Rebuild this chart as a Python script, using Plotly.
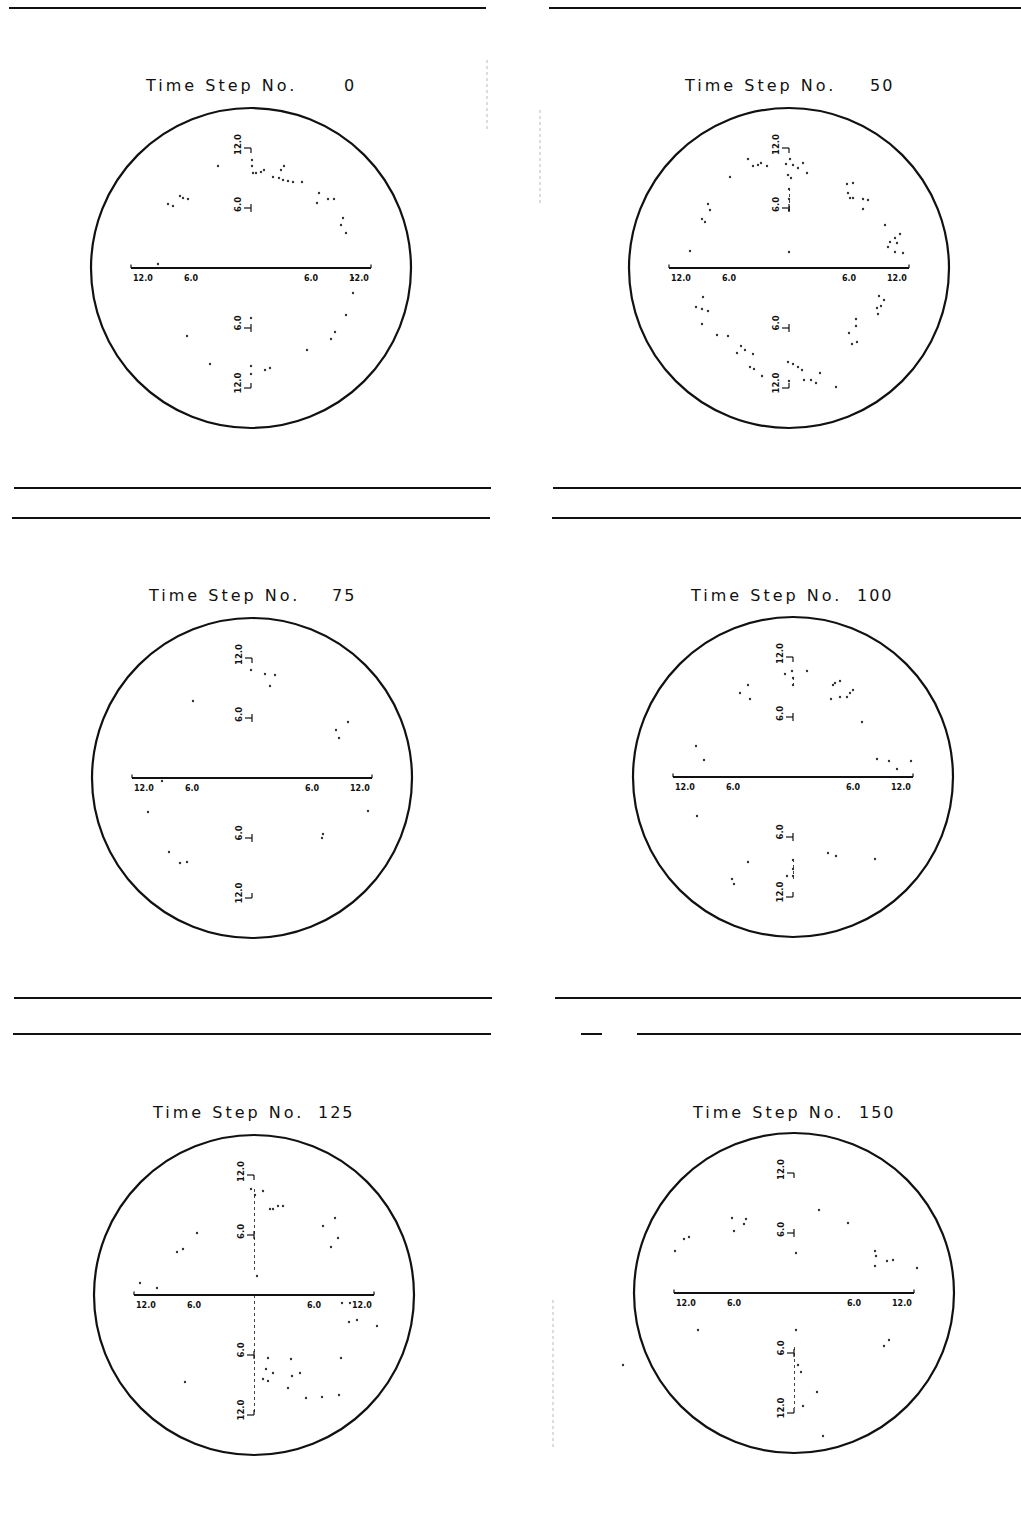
import plotly.graph_objects as go

# Figure size (pixels)
W, H = 1021, 1513

# Time steps shown in the six panels
steps = [0, 50, 75, 100, 125, 150]

# Particle positions for each time step (x, y in radial units)
x_t0 = [-3.3, 0.1, 0.1, 0.2, 0.5, 1.0, 1.3, 3.3, 3.0, 2.2, 2.8, 3.2, 3.7, 4.2, 5.1, 6.8, 6.6, 7.7, 8.3,
        9.2, 9.0, 9.5, -7.1, -6.8, -6.3, -8.3, -7.8, -9.3, 10.2, 10.2, 9.5, 8.4, 8.0, 5.6, 1.9, 1.4,
        0.0, 0.0, 0.0, -6.4, -4.1]
y_t0 = [10.2, 10.8, 10.2, 9.5, 9.5, 9.6, 9.8, 10.2, 9.8, 9.1, 9.0, 8.8, 8.7, 8.6, 8.6, 7.5, 6.5, 6.9, 6.9,
        5.0, 4.3, 3.5, 7.2, 7.0, 6.9, 6.4, 6.2, 0.4, -1.0, -2.5, -4.7, -6.4, -7.1, -8.2, -10.0, -10.2,
        -9.8, -10.6, -5.0, -6.8, -9.6]

x_t50 = [-4.1, -3.6, -3.1, -2.8, -2.2, -5.9, -0.3, 0.1, 0.4, 0.9, 1.4, 1.8, -0.1, 0.2, 0.0, 0.0, 0.0,
         6.4, 5.8, 5.9, 6.1, 6.4, 7.4, 7.9, 7.4, 9.6, 11.1, 10.6, 10.1, 10.8, 9.9, 10.6, 11.4,
         -8.1, -7.9, -8.7, -8.4, -9.9, 0.0, -8.6, -9.3, -8.7, -8.1, -8.7, -7.2, -6.1, -4.8, -4.4,
         -3.6, -5.2, -3.9, -3.5, -2.7, -0.1, 0.4, 0.9, 1.3, 1.5, 2.2, 2.7, 3.1, 4.7, 0.0,
         9.0, 9.5, 9.2, 8.8, 8.9, 6.7, 6.7, 6.0, 6.3, 6.8]
y_t50 = [10.9, 10.2, 10.3, 10.5, 10.2, 9.1, 10.4, 10.9, 10.3, 10.0, 10.5, 9.5, 9.3, 9.0, 7.9, 6.9, 5.8,
         8.5, 8.4, 7.5, 7.0, 7.0, 6.9, 6.8, 5.9, 4.3, 3.4, 3.0, 2.6, 2.5, 2.1, 1.6, 1.5,
         6.4, 5.8, 4.9, 4.6, 1.7, 1.6, -2.9, -3.9, -4.1, -4.3, -5.6, -6.7, -6.8, -7.8, -8.2,
         -8.6, -8.5, -9.9, -10.1, -10.8, -9.4, -9.6, -9.9, -10.2, -11.2, -11.2, -11.5, -10.5, -11.9, -11.3,
         -2.8, -3.2, -3.8, -4.0, -4.6, -5.1, -5.8, -6.5, -7.6, -7.4]

x_t75 = [-0.1, 1.3, 2.3, 1.8, -5.9, 9.6, 8.4, 8.7, -9.0, 11.6, -10.4, 7.1, 7.0, -8.3, -7.2, -6.5]
y_t75 = [10.8, 10.4, 10.3, 9.2, 7.7, 5.6, 4.8, 4.0, -0.3, -3.3, -3.4, -5.6, -6.0, -7.4, -8.5, -8.4]

x_t100 = [-0.1, 0.0, 0.0, 1.4, -0.8, -4.5, -5.3, -4.3, 4.2, 4.7, 4.0, 6.0, 5.7, 3.8, 4.7, 5.4, 6.9,
          -9.7, -8.9, 8.4, 9.6, 10.4, 11.8, -9.6, 3.5, 4.3, 8.2, -4.5, -6.1, -5.9, 0.0, 0.0, 0.0, -0.6]
y_t100 = [10.6, 9.9, 9.2, 10.6, 10.3, 9.2, 8.4, 7.8, 9.4, 9.6, 9.2, 8.7, 8.4, 7.8, 8.0, 8.0, 5.5,
          3.1, 1.7, 1.8, 1.6, 0.8, 1.6, -3.9, -7.6, -7.9, -8.2, -8.5, -10.2, -10.7, -8.3, -9.2, -9.9, -9.9]

x_t125 = [-0.3, 0.1, 0.9, 1.6, 1.9, 2.4, 2.9, 6.9, 8.1, 8.4, 7.7, -5.7, -7.1, -7.7, -11.4, -9.7, 0.3,
          8.8, 9.6, 9.5, 10.3, 12.3, 1.4, 1.9, 1.2, 0.9, 1.4, 3.7, 4.6, 3.8, 8.7, 3.4, 5.2, 6.8, 8.5, -6.9]
y_t125 = [10.6, 10.0, 10.4, 8.6, 8.6, 8.9, 8.9, 6.9, 7.7, 5.7, 4.8, 6.2, 4.6, 4.3, 1.2, 0.7, 1.9,
          -0.8, -0.8, -2.7, -2.5, -3.1, -6.3, -7.8, -7.4, -8.4, -8.6, -6.4, -7.8, -8.1, -6.3, -9.3, -10.3, -10.2, -10.0, -8.7]

x_t150 = [2.5, -6.2, -4.8, -5.0, -6.0, -10.5, -11.0, -11.9, 0.2, 5.4, 8.1, 8.2, 8.1, 9.3, 9.9, 12.3,
          -9.6, 0.2, 9.5, 9.0, 0.7, 0.4, 2.3, 0.9, 2.9, -17.1]
y_t150 = [8.3, 7.5, 7.4, 6.9, 6.2, 5.6, 5.4, 4.2, 4.0, 7.0, 4.2, 3.7, 2.7, 3.2, 3.3, 2.5,
          -3.7, -3.7, -4.7, -5.3, -7.9, -7.2, -9.9, -11.3, -14.3, -7.2]

# Dotted centre-line segments drawn in some panels (y from, y to)
vline_t50 = [(8.0, 5.6)]
vline_t100 = [(10.0, 8.8), (-8.2, -10.2)]
vline_t125 = [(10.6, 2.4), (0.0, -12.0)]
vline_t150 = [(-5.4, -11.5)]

# Axis tick labels
h_tick_labels = ["12.0", "6.0", "6.0", "12.0"]
h_tick_vals = [-12, -6, 6, 12]
v_tick_labels = ["12.0", "6.0", "6.0", "12.0"]
v_tick_vals = [12, 6, -6, -12]

point_x = [x_t0, x_t50, x_t75, x_t100, x_t125, x_t150]
point_y = [y_t0, y_t50, y_t75, y_t100, y_t125, y_t150]
vlines = [[], vline_t50, [], vline_t100, vline_t125, vline_t150]

# Panel centres (px) and title positions (px)
centers = [(251, 268), (789, 268), (252, 778), (793, 777), (254, 1295), (794, 1293)]
title_left = [143, 682, 146, 688, 150, 690]
title_right = [358, 896, 358, 896, 357, 898]
title_y = [85, 85, 595, 595, 1112, 1112]

HALF = 180          # half-size of each panel box in px
RNG = 18.0          # data range half-width -> 10 px per unit
R_CIRCLE = 16.0

INK = "#111111"
FONT = "DejaVu Sans"

fig = go.Figure()
shapes = []
annotations = []


def px_x(x):
    return x / W


def px_y(y):
    return 1 - y / H


for i, (cx, cy) in enumerate(centers):
    n = i + 1
    xa = "x" if n == 1 else f"x{n}"
    ya = "y" if n == 1 else f"y{n}"
    xkey = "xaxis" if n == 1 else f"xaxis{n}"
    ykey = "yaxis" if n == 1 else f"yaxis{n}"
    fig.update_layout({
        xkey: dict(domain=[px_x(cx - HALF), px_x(cx + HALF)], range=[-RNG, RNG],
                   visible=False, fixedrange=True, anchor=ya),
        ykey: dict(domain=[px_y(cy + HALF), px_y(cy - HALF)], range=[-RNG, RNG],
                   visible=False, fixedrange=True, anchor=xa),
    })

    # Outer circle
    shapes.append(dict(type="circle", xref=xa, yref=ya, x0=-R_CIRCLE, x1=R_CIRCLE,
                       y0=-R_CIRCLE, y1=R_CIRCLE, line=dict(color=INK, width=2.2)))
    # Horizontal axis
    shapes.append(dict(type="line", xref=xa, yref=ya, x0=-12, x1=12, y0=0, y1=0,
                       line=dict(color=INK, width=2)))
    for tv in (-12, 12):
        shapes.append(dict(type="line", xref=xa, yref=ya, x0=tv, x1=tv, y0=0, y1=0.35,
                           line=dict(color=INK, width=1.2)))
    # Vertical axis ticks
    for tv in v_tick_vals:
        s = 1 if tv > 0 else -1
        shapes.append(dict(type="line", xref=xa, yref=ya, x0=-0.7, x1=0, y0=tv, y1=tv,
                           line=dict(color=INK, width=1.2)))
        if abs(tv) == 12:
            shapes.append(dict(type="line", xref=xa, yref=ya, x0=0, x1=0, y0=tv, y1=tv - s * 0.5,
                               line=dict(color=INK, width=1.2)))
        else:
            shapes.append(dict(type="line", xref=xa, yref=ya, x0=0, x1=0, y0=tv - 0.4, y1=tv + 0.4,
                               line=dict(color=INK, width=1.2)))

    # Horizontal tick labels
    for tv, tl in zip(h_tick_vals, h_tick_labels):
        anchor = "left" if tv == -12 else ("right" if tv == 12 else "center")
        annotations.append(dict(xref=xa, yref=ya, x=tv, y=-1.0, text=f"<b>{tl}</b>",
                                showarrow=False, xanchor=anchor, yanchor="middle",
                                font=dict(family=FONT, size=8, color=INK)))
    # Vertical tick labels (rotated)
    for tv, tl in zip(v_tick_vals, v_tick_labels):
        off = 0.35 if tv > 0 else 0.5
        annotations.append(dict(xref=xa, yref=ya, x=-1.35, y=tv + off, text=f"<b>{tl}</b>",
                                showarrow=False, textangle=-90, xanchor="center", yanchor="middle",
                                font=dict(family=FONT, size=8.5, color=INK)))

    # Dotted centre-line pieces
    for (ya0, ya1) in vlines[i]:
        fig.add_trace(go.Scatter(x=[0.05, 0.05], y=[ya0, ya1], mode="lines",
                                 line=dict(color="#444444", width=1, dash="dot"),
                                 xaxis=xa, yaxis=ya, hoverinfo="skip", showlegend=False))

    # Particles
    fig.add_trace(go.Scatter(x=point_x[i], y=point_y[i], mode="markers",
                             marker=dict(size=2.4, color="#333333", line=dict(width=0)),
                             xaxis=xa, yaxis=ya, hoverinfo="skip", showlegend=False))

    # Title
    annotations.append(dict(xref="paper", yref="paper", x=px_x(title_left[i]), y=px_y(title_y[i]),
                            text='<span style="letter-spacing:3px">Time Step No.</span>',
                            showarrow=False, xanchor="left", yanchor="middle",
                            font=dict(family=FONT, size=16, color=INK)))
    annotations.append(dict(xref="paper", yref="paper", x=px_x(title_right[i]), y=px_y(title_y[i]),
                            text=f'<span style="letter-spacing:2px">{steps[i]}</span>',
                            showarrow=False, xanchor="right", yanchor="middle",
                            font=dict(family=FONT, size=16, color=INK)))

# Horizontal separator rules (px: y, x0, x1)
rules = [(8, 9, 486), (8, 549, 1021),
         (488, 14, 491), (488, 553, 1021),
         (518, 12, 490), (518, 552, 1021),
         (998, 14, 492), (998, 555, 1021),
         (1034, 13, 491), (1034, 581, 602), (1034, 637, 1021)]
for (ry, rx0, rx1) in rules:
    shapes.append(dict(type="line", xref="paper", yref="paper", x0=px_x(rx0), x1=px_x(rx1),
                       y0=px_y(ry), y1=px_y(ry), line=dict(color=INK, width=2)))

# Faint dotted streaks between the columns
streaks = [(487, 60, 130), (540, 110, 205), (553, 1300, 1450)]
for (sx, sy0, sy1) in streaks:
    shapes.append(dict(type="line", xref="paper", yref="paper", x0=px_x(sx), x1=px_x(sx),
                       y0=px_y(sy0), y1=px_y(sy1), line=dict(color="#bbbbbb", width=1, dash="dot")))

fig.update_layout(width=W, height=H, margin=dict(l=0, r=0, t=0, b=0),
                  paper_bgcolor="white", plot_bgcolor="white",
                  shapes=shapes, annotations=annotations, showlegend=False)

fig.write_html("out.html")
